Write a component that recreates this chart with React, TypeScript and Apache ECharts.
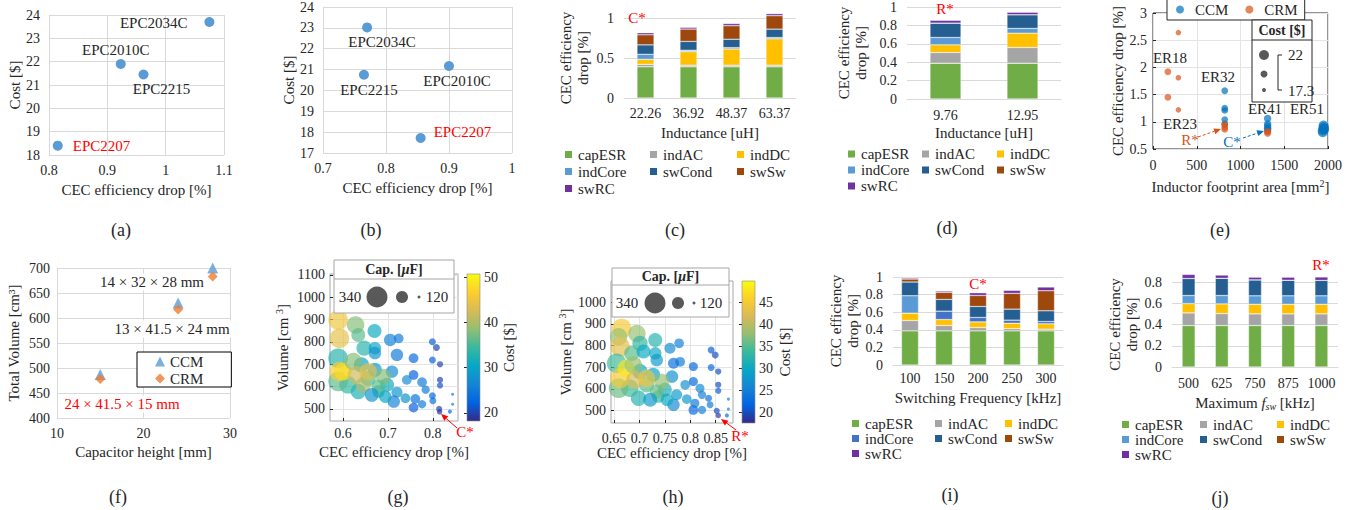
import React, { useEffect, useRef } from "react";
import * as echarts from "echarts";

const W = 1363;
const H = 510;
const FONT = '"Liberation Serif", "Times New Roman", Times, serif';
const TXT = "#262626";
const GRIDC = "#D9D9D9";
const AX = "#262626";
const RED = "#FF0000";

// ---------- (a) / (b) device comparison ----------
const devNamesA = ["EPC2034C", "EPC2010C", "EPC2215", "EPC2207"];
const devEffA = [1.075, 0.923, 0.962, 0.815];
const devCostA = [23.7, 21.9, 21.45, 18.4];
const devNamesB = ["EPC2034C", "EPC2010C", "EPC2215", "EPC2207"];
const devEffB = [0.77, 0.9, 0.765, 0.855];
const devCostB = [23.02, 21.17, 20.75, 17.72];

// ---------- loss breakdown (stacked bars) ----------
const LOSS = ["capESR", "indAC", "indDC", "indCore", "swCond", "swSw", "swRC"];
const LOSS_COLORS = ["#70AD47", "#A5A5A5", "#FFC000", "#5B9BD5", "#255E91", "#9E480E", "#7030A0"];

// (c) CCM, vs inductance
const cInductance = ["22.26", "36.92", "48.37", "63.37"];
const cCapESR = [0.39, 0.39, 0.39, 0.39];
const cIndAC = [0.03, 0.02, 0.02, 0.02];
const cIndDC = [0.063, 0.17, 0.203, 0.33];
const cIndCore = [0.063, 0.017, 0.017, 0.016];
const cSwCond = [0.118, 0.11, 0.105, 0.105];
const cSwSw = [0.126, 0.155, 0.168, 0.168];
const cSwRC = [0.025, 0.021, 0.027, 0.025];

// (d) CRM, vs inductance
const dInductance = ["9.76", "12.95"];
const dCapESR = [0.389, 0.389];
const dIndAC = [0.116, 0.171];
const dIndDC = [0.084, 0.156];
const dIndCore = [0.08, 0.051];
const dSwCond = [0.156, 0.149];
const dSwSw = [0, 0];
const dSwRC = [0.03, 0.026];

// (i) CCM, vs switching frequency
const iFreq = ["100", "150", "200", "250", "300"];
const iCapESR = [0.388, 0.388, 0.388, 0.388, 0.388];
const iIndAC = [0.118, 0.061, 0.038, 0.026, 0.019];
const iIndDC = [0.083, 0.068, 0.064, 0.061, 0.061];
const iIndCore = [0.198, 0.095, 0.05, 0.035, 0.026];
const iSwCond = [0.156, 0.133, 0.125, 0.125, 0.122];
const iSwSw = [0.034, 0.08, 0.125, 0.179, 0.228];
const iSwRC = [0.012, 0.015, 0.031, 0.034, 0.042];

// (j) CRM, vs maximum fsw
const jFsw = ["500", "625", "750", "875", "1000"];
const jCapESR = [0.39, 0.39, 0.39, 0.39, 0.39];
const jIndAC = [0.119, 0.113, 0.11, 0.11, 0.11];
const jIndDC = [0.088, 0.091, 0.09, 0.09, 0.09];
const jIndCore = [0.076, 0.079, 0.08, 0.08, 0.08];
const jSwCond = [0.16, 0.162, 0.15, 0.147, 0.145];
const jSwSw = [0, 0, 0, 0, 0];
const jSwRC = [0.038, 0.03, 0.025, 0.028, 0.032];

// ---------- (e) inductor footprint ----------
const eCcmArea = [820, 820, 820, 820, 820, 1310, 1310, 1310, 1310, 1310, 1950, 1950, 1950, 1940, 1940, 1960];
const eCcmDrop = [1.57, 1.25, 1.21, 1.04, 0.96, 1.06, 0.96, 0.92, 0.88, 0.85, 0.93, 0.9, 0.87, 0.84, 0.81, 0.86];
const eCcmCost = [19.5, 19.5, 19.5, 19.5, 19.5, 20, 20, 20, 20, 20, 22, 22, 22, 22, 22, 21.5];
const eCrmArea = [290, 170, 290, 170, 290, 820, 820, 820, 1310, 1310];
const eCrmDrop = [2.64, 1.92, 1.81, 1.45, 1.22, 0.95, 0.9, 0.86, 0.82, 0.79];
const eCrmCost = [18.5, 19.5, 18.5, 19.5, 18.5, 19.5, 19.5, 19.5, 19.8, 19.8];

// ---------- (f) capacitor height ----------
const fCapHeight = [15, 24, 28];
const fCcmVolume = [487, 630, 700];
const fCrmVolume = [478, 617, 683];

// ---------- (g) / (h) bubbles: [eff drop, volume, cap uF, cost $] ----------
const gBubbles = [
  [0.589, 898, 323, 45], [0.628, 876, 297, 38], [0.67, 849, 254, 31], [0.592, 816, 323, 44],
  [0.634, 831, 254, 36], [0.647, 772, 271, 33], [0.671, 772, 236, 30], [0.671, 750, 236, 28],
  [0.705, 809, 236, 26], [0.724, 816, 202, 25], [0.72, 742, 236, 25], [0.757, 727, 202, 23],
  [0.757, 652, 202, 22], [0.799, 801, 168, 22], [0.808, 775, 168, 20], [0.799, 719, 168, 22],
  [0.816, 700, 159, 20], [0.816, 630, 159, 20], [0.816, 605, 159, 21], [0.814, 500, 159, 20],
  [0.815, 487, 150, 18.8], [0.838, 488, 133, 23], [0.844, 566, 120, 24], [0.844, 521, 120, 24],
  [0.799, 559, 168, 23], [0.8, 537, 168, 24], [0.776, 521, 185, 25], [0.757, 506, 202, 22],
  [0.761, 545, 202, 24], [0.784, 586, 185, 25], [0.776, 620, 202, 25], [0.742, 630, 202, 27],
  [0.739, 548, 202, 28], [0.72, 575, 219, 28], [0.713, 533, 236, 26], [0.709, 667, 236, 27],
  [0.698, 608, 254, 31], [0.679, 578, 236, 33], [0.671, 675, 254, 29], [0.641, 697, 271, 30],
  [0.656, 637, 271, 35], [0.634, 578, 271, 32], [0.611, 608, 297, 34], [0.589, 623, 323, 36],
  [0.589, 727, 323, 33], [0.592, 667, 323, 46], [0.6, 667, 297, 48], [0.623, 712, 297, 38],
  [0.63, 652, 297, 42], [0.645, 608, 271, 40], [0.656, 667, 297, 44], [0.69, 645, 271, 38],
  [0.679, 600, 254, 36], [0.694, 555, 236, 30], [0.664, 563, 254, 28],
];
const hBubbles = [
  [0.665, 878, 323, 45], [0.695, 855, 297, 38], [0.659, 840, 297, 38], [0.731, 825, 254, 32],
  [0.701, 810, 271, 33], [0.662, 794, 323, 43], [0.685, 764, 271, 35], [0.708, 772, 254, 30],
  [0.731, 764, 236, 30], [0.734, 733, 236, 28], [0.76, 787, 219, 26], [0.778, 810, 202, 25],
  [0.767, 718, 219, 23], [0.78, 725, 202, 24], [0.806, 703, 194, 22], [0.806, 634, 194, 22],
  [0.841, 779, 168, 21], [0.849, 756, 168, 20], [0.841, 699, 168, 22], [0.855, 680, 159, 20],
  [0.855, 619, 159, 20], [0.855, 591, 159, 21], [0.852, 499, 159, 20], [0.855, 478, 150, 18.5],
  [0.872, 478, 133, 22], [0.875, 553, 120, 24], [0.875, 507, 120, 24], [0.836, 557, 168, 23],
  [0.839, 527, 168, 24], [0.823, 503, 185, 25], [0.806, 503, 202, 22], [0.809, 534, 194, 24],
  [0.823, 573, 185, 25], [0.819, 603, 194, 26], [0.79, 619, 202, 27], [0.793, 553, 202, 28],
  [0.773, 573, 219, 28], [0.767, 527, 236, 26], [0.764, 657, 236, 27], [0.75, 596, 254, 31],
  [0.737, 565, 236, 33], [0.727, 665, 254, 29], [0.701, 680, 271, 30], [0.714, 619, 271, 35],
  [0.698, 557, 271, 32], [0.681, 603, 297, 34], [0.659, 603, 323, 36], [0.655, 718, 323, 34],
  [0.662, 649, 323, 45], [0.674, 695, 297, 48], [0.688, 710, 297, 38], [0.691, 642, 297, 42],
  [0.714, 649, 297, 44], [0.744, 634, 271, 38], [0.734, 588, 254, 36], [0.754, 550, 236, 30],
  [0.721, 550, 254, 28],
];
const gXTicks = [0.6, 0.7, 0.8];
const gYTicks = [500, 600, 700, 800, 900, 1000, 1100];
const gCostTicks = [20, 30, 40, 50];
const hXTicks = [0.65, 0.7, 0.75, 0.8, 0.85];
const hYTicks = [500, 600, 700, 800, 900, 1000];
const hCostTicks = [20, 25, 30, 35, 40, 45];

const PARULA = ["#352a87", "#0363e1", "#1485d4", "#06a7c6", "#38b99e", "#92bf73", "#d9ba56", "#fcce2e", "#f9fb0e"];

// ---------- helpers ----------
const plain = (v: number) => String(v);
const tStyle = (size = 15, color = TXT, extra: any = {}) => ({ fontFamily: FONT, fontSize: size, color, ...extra });

function txt(text: string, x: number, y: number, o: any = {}) {
  return {
    type: "text",
    x,
    y,
    z: o.z ?? 50,
    style: {
      text,
      fill: o.fill ?? TXT,
      fontFamily: FONT,
      fontSize: o.size ?? 15,
      fontWeight: o.weight ?? "normal",
      align: o.align ?? "center",
      verticalAlign: o.va ?? "middle",
      backgroundColor: o.bg,
      padding: o.pad,
      rich: o.rich,
    },
  };
}
const caption = (t: string, x: number, y: number) => txt(t, x, y, { size: 18 });

function arrow(x1: number, y1: number, x2: number, y2: number, color: string, dashed: boolean) {
  const a = Math.atan2(y2 - y1, x2 - x1);
  const L = 7, Wd = 3;
  const bx = x2 - L * Math.cos(a), by = y2 - L * Math.sin(a);
  const px = -Math.sin(a) * Wd, py = Math.cos(a) * Wd;
  return [
    { type: "line", z: 60, shape: { x1, y1, x2: bx, y2: by }, style: { stroke: color, lineWidth: 1, lineDash: dashed ? [3, 2] : null } },
    { type: "polygon", z: 60, shape: { points: [[x2, y2], [bx + px, by + py], [bx - px, by - py]] }, style: { fill: color } },
  ];
}

// ---------- Excel-like scatter (a)/(b) ----------
function deviceScatter(names: string[], eff: number[], cost: number[], labels: any[], grid: any, xr: number[], yr: number[], cap: any) {
  return {
    animation: false,
    grid,
    xAxis: {
      type: "value", min: xr[0], max: xr[1], interval: xr[2],
      axisLine: { show: false }, axisTick: { show: false },
      splitLine: { show: true, lineStyle: { color: GRIDC } },
      axisLabel: tStyle(14, TXT, { margin: 8 }),
      name: "CEC efficiency drop [%]", nameLocation: "middle", nameGap: 27, nameTextStyle: tStyle(15),
    },
    yAxis: {
      type: "value", min: yr[0], max: yr[1], interval: yr[2],
      axisLine: { show: false }, axisTick: { show: false },
      splitLine: { show: true, lineStyle: { color: GRIDC } },
      axisLabel: tStyle(14, TXT, { margin: 9 }),
      name: "Cost [$]", nameLocation: "middle", nameGap: 27, nameTextStyle: tStyle(15),
    },
    series: [
      {
        type: "scatter", symbolSize: 10, itemStyle: { color: "#5B9BD5", opacity: 1 },
        data: names.map((n, i) => ({
          value: [eff[i], cost[i]],
          name: n,
          label: {
            show: true, formatter: n, position: labels[i].pos, distance: labels[i].d, offset: labels[i].off,
            ...tStyle(15, labels[i].color ?? TXT),
          },
        })),
      },
    ],
    graphic: { elements: [cap] },
  };
}

// ---------- Excel-like stacked bars ----------
function lossBars(c: any) {
  const series = LOSS.map((name, k) => ({
    name, type: "bar", stack: "loss", clip: false, barWidth: c.barWidth,
    itemStyle: { color: c.colors[k], borderColor: "#fff", borderWidth: 0.4 },
    data: c.values[k].map((v: number, j: number) =>
      c.override && c.override[k] && c.override[k][j] ? { value: v, itemStyle: { color: c.override[k][j] } } : v
    ),
  }));
  const cols = [[0, 3, 6], [1, 4], [2, 5]];
  const legend = cols.map((col, ci) => ({
    orient: "vertical", left: c.legendLeft[ci], top: c.legendTop, padding: 0, itemGap: 0,
    itemWidth: 9, itemHeight: 9, icon: "rect", selectedMode: false,
    textStyle: tStyle(15, TXT, { lineHeight: c.rowH }),
    data: col.map((k) => LOSS[k]),
  }));
  return {
    animation: false,
    grid: c.grid,
    legend,
    xAxis: {
      type: "category", data: c.cats,
      axisLine: { show: true, lineStyle: { color: GRIDC } }, axisTick: { show: false },
      axisLabel: tStyle(14, TXT, { margin: c.xLabelMargin, interval: 0 }),
      name: c.xName, nameLocation: "middle", nameGap: c.xNameGap,
      nameTextStyle: tStyle(15, TXT, { rich: c.xRich }),
    },
    yAxis: {
      type: "value", min: 0, max: c.yMax, interval: c.yInterval,
      axisLine: { show: false }, axisTick: { show: false },
      splitLine: { show: true, lineStyle: { color: GRIDC } },
      axisLabel: tStyle(14, TXT, { margin: 10 }),
      name: "CEC efficiency\ndrop [%]", nameLocation: "middle", nameGap: c.yNameGap,
      nameTextStyle: tStyle(15, TXT, { lineHeight: 17 }),
    },
    series,
    graphic: { elements: [txt(c.star[0], c.star[1], c.star[2], { fill: RED }), caption(c.caption[0], c.caption[1], c.caption[2])] },
  };
}

// ---------- MATLAB-like bubble chart ----------
const capSize = (cap: number) => 3 + ((cap - 120) / 220) * 18;

function bubbles(c: any) {
  const [gl, gt, gw, gh] = c.grid;
  const [cl, cw] = c.cbar;
  const lb = c.legendBox; // x, y, w, h, sepY
  const els: any[] = [
    {
      type: "rect", z: 40, shape: { x: cl, y: gt, width: cw, height: gh },
      style: {
        fill: new echarts.graphic.LinearGradient(0, 1, 0, 0, PARULA.map((col, i) => ({ offset: i / (PARULA.length - 1), color: col }))),
        stroke: "#8C8C8C", lineWidth: 0.6,
      },
    },
    { type: "rect", z: 40, shape: { x: lb[0], y: lb[1], width: lb[2], height: lb[3] }, style: { fill: "#fff", stroke: "#A6A6A6", lineWidth: 1 } },
    { type: "line", z: 41, shape: { x1: lb[0], y1: lb[4], x2: lb[0] + lb[2], y2: lb[4] }, style: { stroke: "#A6A6A6", lineWidth: 1 } },
    txt("{b|Cap. [}{bi|\u03bc}{b|F]}", lb[0] + lb[2] / 2, (lb[1] + lb[4]) / 2, {
      z: 42, size: 14,
      rich: { b: { fontFamily: FONT, fontSize: 14, fontWeight: "bold", fill: TXT }, bi: { fontFamily: FONT, fontSize: 14, fontWeight: "bold", fontStyle: "italic", fill: TXT } },
    }),
    txt("340", c.capLegend[0], c.capLegend[5], { z: 42, size: 15 }),
    { type: "circle", z: 42, shape: { cx: c.capLegend[1], cy: c.capLegend[5], r: capSize(340) / 2 }, style: { fill: "#595959" } },
    { type: "circle", z: 42, shape: { cx: c.capLegend[2], cy: c.capLegend[5], r: capSize(230) / 2 }, style: { fill: "#595959" } },
    { type: "circle", z: 42, shape: { cx: c.capLegend[3], cy: c.capLegend[5], r: capSize(120) / 2 }, style: { fill: "#595959" } },
    txt("120", c.capLegend[4], c.capLegend[5], { z: 42, size: 15 }),
    ...arrow(c.star[3], c.star[4], c.star[5], c.star[6], RED, false),
    txt(c.star[0], c.star[1], c.star[2], { fill: RED, size: 15 }),
    caption(c.caption[0], c.caption[1], c.caption[2]),
  ];
  return {
    animation: false,
    grid: [
      { left: gl, top: gt, width: gw, height: gh, show: true, borderColor: "#A6A6A6", borderWidth: 1, backgroundColor: "transparent" },
      { left: cl, top: gt, width: cw, height: gh, show: false },
    ],
    xAxis: [
      {
        type: "value", min: c.xr[0], max: c.xr[1],
        axisLine: { show: false },
        axisTick: { show: true, inside: true, length: 3, customValues: c.xTicks, lineStyle: { color: AX } },
        axisLabel: { customValues: c.xTicks, formatter: plain, ...tStyle(14, TXT, { margin: c.xLabelMargin }) },
        splitLine: { show: true, lineStyle: { color: "#E4E4E4" } },
        name: "CEC efficiency drop [%]", nameLocation: "middle", nameGap: c.xNameGap, nameTextStyle: tStyle(15),
      },
      { gridIndex: 1, type: "value", min: 0, max: 1, show: false },
    ],
    yAxis: [
      {
        type: "value", min: c.yr[0], max: c.yr[1],
        axisLine: { show: false },
        axisTick: { show: true, inside: true, length: 3, customValues: c.yTicks, lineStyle: { color: AX } },
        axisLabel: { customValues: c.yTicks, formatter: plain, ...tStyle(14, TXT, { margin: 5 }) },
        splitLine: { show: true, lineStyle: { color: "#E4E4E4" } },
        name: "Volume [cm {sup|3}]", nameLocation: "middle", nameGap: c.yNameGap,
        nameTextStyle: tStyle(15, TXT, { rich: { sup: { fontFamily: FONT, fontSize: 10, verticalAlign: "top", padding: [0, 0, 8, 0] } } }),
      },
      {
        gridIndex: 1, type: "value", position: "right", min: c.cr[0], max: c.cr[1],
        axisLine: { show: false },
        axisTick: { show: true, inside: true, length: 3, customValues: c.cTicks, lineStyle: { color: AX } },
        axisLabel: { customValues: c.cTicks, formatter: plain, ...tStyle(14, TXT, { margin: 4 }) },
        splitLine: { show: false },
        name: "Cost [$]", nameLocation: "middle", nameRotate: 90, nameGap: c.cNameGap, nameTextStyle: tStyle(15),
      },
    ],
    visualMap: { type: "continuous", show: false, seriesIndex: 0, dimension: 3, min: c.cr[0], max: c.cr[1], inRange: { color: PARULA } },
    series: [
      { type: "scatter", xAxisIndex: 0, yAxisIndex: 0, data: c.data, symbolSize: (v: number[]) => capSize(v[2]), itemStyle: { opacity: 0.68 } },
      { type: "scatter", xAxisIndex: 1, yAxisIndex: 1, data: [] },
    ],
    graphic: { elements: els },
  };
}

// ---------- options ----------
const optA = deviceScatter(
  devNamesA, devEffA, devCostA,
  [
    { pos: "left", d: 17, off: [0, 1] },
    { pos: "top", d: 2, off: [-5, 0] },
    { pos: "bottom", d: 2, off: [18, 0] },
    { pos: "right", d: 10, off: [0, 0], color: RED },
  ],
  { left: 49, top: 15, width: 175, height: 140 }, [0.8, 1.1, 0.1], [18, 24, 1], caption("(a)", 121, 230)
);

const optB = deviceScatter(
  devNamesB, devEffB, devCostB,
  [
    { pos: "bottom", d: 2, off: [15, 0] },
    { pos: "bottom", d: 2, off: [8, 0] },
    { pos: "bottom", d: 3, off: [5, 0] },
    { pos: "right", d: 8, off: [0, -6], color: RED },
  ],
  { left: 323, top: 7, width: 189, height: 146 }, [0.7, 1, 0.1], [17, 24, 1], caption("(b)", 371, 230)
);

const optC = lossBars({
  cats: cInductance, values: [cCapESR, cIndAC, cIndDC, cIndCore, cSwCond, cSwSw, cSwRC], colors: LOSS_COLORS,
  grid: { left: 624, top: 18, width: 172, height: 80 }, yMax: 1, yInterval: 0.5, barWidth: 17,
  xName: "Inductance [uH]", xNameGap: 27, xLabelMargin: 8, yNameGap: 33,
  legendLeft: [563, 648, 735], legendTop: 146, rowH: 17,
  star: ["C*", 637, 18], caption: ["(c)", 675, 230],
});

const optD = lossBars({
  cats: dInductance, values: [dCapESR, dIndAC, dIndDC, dIndCore, dSwCond, dSwSw, dSwRC], colors: LOSS_COLORS,
  grid: { left: 907, top: 7, width: 154, height: 92 }, yMax: 1, yInterval: 0.2, barWidth: 31,
  xName: "Inductance [uH]", xNameGap: 26, xLabelMargin: 9, yNameGap: 38,
  legendLeft: [846, 920, 995], legendTop: 146, rowH: 16,
  star: ["R*", 945, 9], caption: ["(d)", 947, 228],
});

const optI = lossBars({
  cats: iFreq, values: [iCapESR, iIndAC, iIndDC, iIndCore, iSwCond, iSwSw, iSwRC],
  colors: ["#70AD47", "#A5A5A5", "#FFC000", "#4472C4", "#255E91", "#9E480E", "#7030A0"],
  override: [null, null, null, ["#5B9BD5"]],
  grid: { left: 893, top: 277, width: 170, height: 88 }, yMax: 1, yInterval: 0.2, barWidth: 17,
  xName: "Switching Frequency [kHz]", xNameGap: 25, xLabelMargin: 6, yNameGap: 28,
  legendLeft: [850, 933, 1003], legendTop: 416, rowH: 14,
  star: ["C*", 978, 284], caption: ["(i)", 950, 495],
});

const optJ = lossBars({
  cats: jFsw, values: [jCapESR, jIndAC, jIndDC, jIndCore, jSwCond, jSwSw, jSwRC], colors: LOSS_COLORS,
  grid: { left: 1172, top: 282, width: 166, height: 85 }, yMax: 0.8, yInterval: 0.2, barWidth: 13,
  xName: "Maximum {it|f}{sub|sw} [kHz]", xNameGap: 28, xLabelMargin: 9, yNameGap: 29,
  xRich: {
    it: { fontFamily: FONT, fontSize: 15, fontStyle: "italic", color: TXT },
    sub: { fontFamily: FONT, fontSize: 10, fontStyle: "italic", color: TXT, verticalAlign: "bottom", padding: [6, 0, 0, 0] },
  },
  legendLeft: [1120, 1198, 1275], legendTop: 417, rowH: 14.5,
  star: ["R*", 1321, 265], caption: ["(j)", 1220, 498],
});

const eSize = (cost: number) => 4 + ((cost - 17.3) / 4.7) * 6;
const optE = {
  animation: false,
  grid: { left: 1153, top: 13, width: 175, height: 136, show: true, borderColor: AX, borderWidth: 1, backgroundColor: "transparent" },
  legend: {
    data: ["CCM", "CRM"], left: 1167, top: -3, icon: "circle", itemWidth: 20, itemHeight: 8, itemGap: 17,
    padding: [5, 7, 3, 9], borderColor: AX, borderWidth: 1, backgroundColor: "#fff", selectedMode: false,
    textStyle: tStyle(15),
  },
  xAxis: {
    type: "value", min: 0, max: 2000, interval: 500,
    axisLine: { show: false },
    axisTick: { show: true, inside: true, length: 3, lineStyle: { color: AX } },
    splitLine: { show: true, lineStyle: { color: "#E4E4E4" } },
    axisLabel: tStyle(14, TXT, { margin: 9, formatter: plain }),
    name: "Inductor footprint area [mm{sup|2}]", nameLocation: "middle", nameGap: 29,
    nameTextStyle: tStyle(15, TXT, { rich: { sup: { fontFamily: FONT, fontSize: 10, verticalAlign: "top", padding: [0, 0, 8, 0] } } }),
  },
  yAxis: {
    type: "value", min: 0.5, max: 3, interval: 0.5,
    axisLine: { show: false },
    axisTick: { show: true, inside: true, length: 3, lineStyle: { color: AX } },
    splitLine: { show: true, lineStyle: { color: "#E4E4E4" } },
    axisLabel: tStyle(14, TXT, { margin: 6 }),
    name: "CEC efficiency drop [%]", nameLocation: "middle", nameGap: 27, nameTextStyle: tStyle(15),
  },
  series: [
    {
      name: "CCM", type: "scatter", itemStyle: { color: "#0072BD", opacity: 0.7 },
      data: eCcmArea.map((a, i) => [a, eCcmDrop[i], eCcmCost[i]]), symbolSize: (v: number[]) => eSize(v[2]),
    },
    {
      name: "CRM", type: "scatter", itemStyle: { color: "#D95319", opacity: 0.7 },
      data: eCrmArea.map((a, i) => [a, eCrmDrop[i], eCrmCost[i]]), symbolSize: (v: number[]) => eSize(v[2]),
    },
  ],
  graphic: {
    elements: [
      { type: "rect", z: 40, shape: { x: 1252, y: 20, width: 60, height: 82 }, style: { fill: "#fff", stroke: AX, lineWidth: 1 } },
      { type: "line", z: 41, shape: { x1: 1252, y1: 40, x2: 1312, y2: 40 }, style: { stroke: AX, lineWidth: 1 } },
      txt("Cost [$]", 1282, 30, { z: 42, size: 14, weight: "bold" }),
      { type: "circle", z: 42, shape: { cx: 1264, cy: 55, r: eSize(22) / 2 }, style: { fill: "#595959" } },
      { type: "circle", z: 42, shape: { cx: 1264, cy: 74, r: eSize(19.65) / 2 }, style: { fill: "#595959" } },
      { type: "circle", z: 42, shape: { cx: 1264, cy: 90, r: eSize(17.3) / 2 }, style: { fill: "#595959" } },
      { type: "polyline", z: 42, shape: { points: [[1282, 55], [1278, 55], [1278, 90], [1282, 90]] }, style: { stroke: AX, lineWidth: 1, fill: null } },
      txt("22", 1288, 55, { z: 42, align: "left" }),
      txt("17.3", 1288, 91, { z: 42, align: "left" }),
      txt("ER18", 1170, 58),
      txt("ER32", 1218, 77),
      txt("ER23", 1180, 124),
      txt("ER41", 1265, 109),
      txt("ER51", 1307, 109),
      ...arrow(1198, 137, 1221, 129, "#D95319", true),
      txt("R*", 1190, 140, { fill: "#D95319" }),
      ...arrow(1243, 138, 1264, 131, "#0072BD", true),
      txt("C*", 1232, 142, { fill: "#0072BD" }),
      caption("(e)", 1220, 230),
    ],
  },
};

const optF = {
  animation: false,
  grid: { left: 57, top: 268, width: 173, height: 150 },
  legend: {
    data: ["CCM", "CRM"], orient: "vertical", left: 137, top: 352, itemWidth: 10, itemHeight: 10, itemGap: 2,
    padding: [2, 28, 1, 18], borderColor: "#000", borderWidth: 1, backgroundColor: "#fff", selectedMode: false,
    textStyle: tStyle(15, TXT, { lineHeight: 15 }),
  },
  xAxis: {
    type: "value", min: 10, max: 30, interval: 10,
    axisLine: { show: false }, axisTick: { show: false },
    splitLine: { show: true, lineStyle: { color: GRIDC } },
    axisLabel: tStyle(14, TXT, { margin: 8 }),
    name: "Capacitor height [mm]", nameLocation: "middle", nameGap: 26, nameTextStyle: tStyle(15),
  },
  yAxis: {
    type: "value", min: 400, max: 700, interval: 50,
    axisLine: { show: false }, axisTick: { show: false },
    splitLine: { show: true, lineStyle: { color: GRIDC } },
    axisLabel: tStyle(14, TXT, { margin: 7 }),
    name: "Total Volume [cm\u00b3]", nameLocation: "middle", nameGap: 36, nameTextStyle: tStyle(15),
  },
  series: [
    { name: "CCM", type: "scatter", symbol: "triangle", symbolSize: 11, itemStyle: { color: "#5B9BD5" }, data: fCapHeight.map((h, i) => [h, fCcmVolume[i]]) },
    { name: "CRM", type: "scatter", symbol: "diamond", symbolSize: 10, itemStyle: { color: "#ED7D31" }, data: fCapHeight.map((h, i) => [h, fCrmVolume[i]]) },
  ],
  graphic: {
    elements: [
      txt("14 \u00d7 32 \u00d7 28 mm", 152, 282, { bg: "#fff", pad: [1, 2] }),
      txt("13 \u00d7 41.5 \u00d7 24 mm", 172, 329, { bg: "#fff", pad: [1, 2] }),
      txt("24 \u00d7 41.5 \u00d7 15 mm", 122, 404, { fill: RED, bg: "#fff", pad: [1, 2] }),
      caption("(f)", 118, 497),
    ],
  },
};

const optG = bubbles({
  data: gBubbles, grid: [330, 274, 128, 147], cbar: [467, 13],
  xr: [0.571, 0.856], yr: [446, 1104], cr: [18.2, 50.7],
  xTicks: gXTicks, yTicks: gYTicks, cTicks: gCostTicks,
  xLabelMargin: 5, xNameGap: 23, yNameGap: 38, cNameGap: 20,
  legendBox: [334, 260, 120, 53, 279],
  capLegend: [350, 377, 402, 419, 437, 297],
  star: ["C*", 465, 432, 457, 428, 441, 414],
  caption: ["(g)", 398, 497],
});

const optH = bubbles({
  data: hBubbles, grid: [611, 281, 122, 142], cbar: [742, 13],
  xr: [0.644, 0.884], yr: [443, 1097], cr: [17.5, 49.8],
  xTicks: hXTicks, yTicks: hYTicks, cTicks: hCostTicks,
  xLabelMargin: 8, xNameGap: 22, yNameGap: 36, cNameGap: 22,
  legendBox: [612, 268, 117, 49, 285],
  capLegend: [627, 655, 678, 694, 711, 303],
  star: ["R*", 740, 436, 736, 430, 721, 419],
  caption: ["(h)", 673, 497],
});

const OPTIONS = [optA, optB, optC, optD, optE, optF, optG, optH, optI, optJ];

function Chart({ option }: { option: any }) {
  const ref = useRef<HTMLDivElement>(null);
  useEffect(() => {
    const chart = echarts.init(ref.current as HTMLDivElement, null, { renderer: "svg" });
    chart.setOption(option);
    return () => chart.dispose();
  }, [option]);
  return <div ref={ref} style={{ position: "absolute", left: 0, top: 0, width: W, height: H }} />;
}

export default function App() {
  return (
    <div style={{ position: "fixed", left: 0, top: 0, width: W, height: H, background: "#fff", overflow: "hidden" }}>
      {OPTIONS.map((o, i) => (
        <Chart key={i} option={o} />
      ))}
    </div>
  );
}
